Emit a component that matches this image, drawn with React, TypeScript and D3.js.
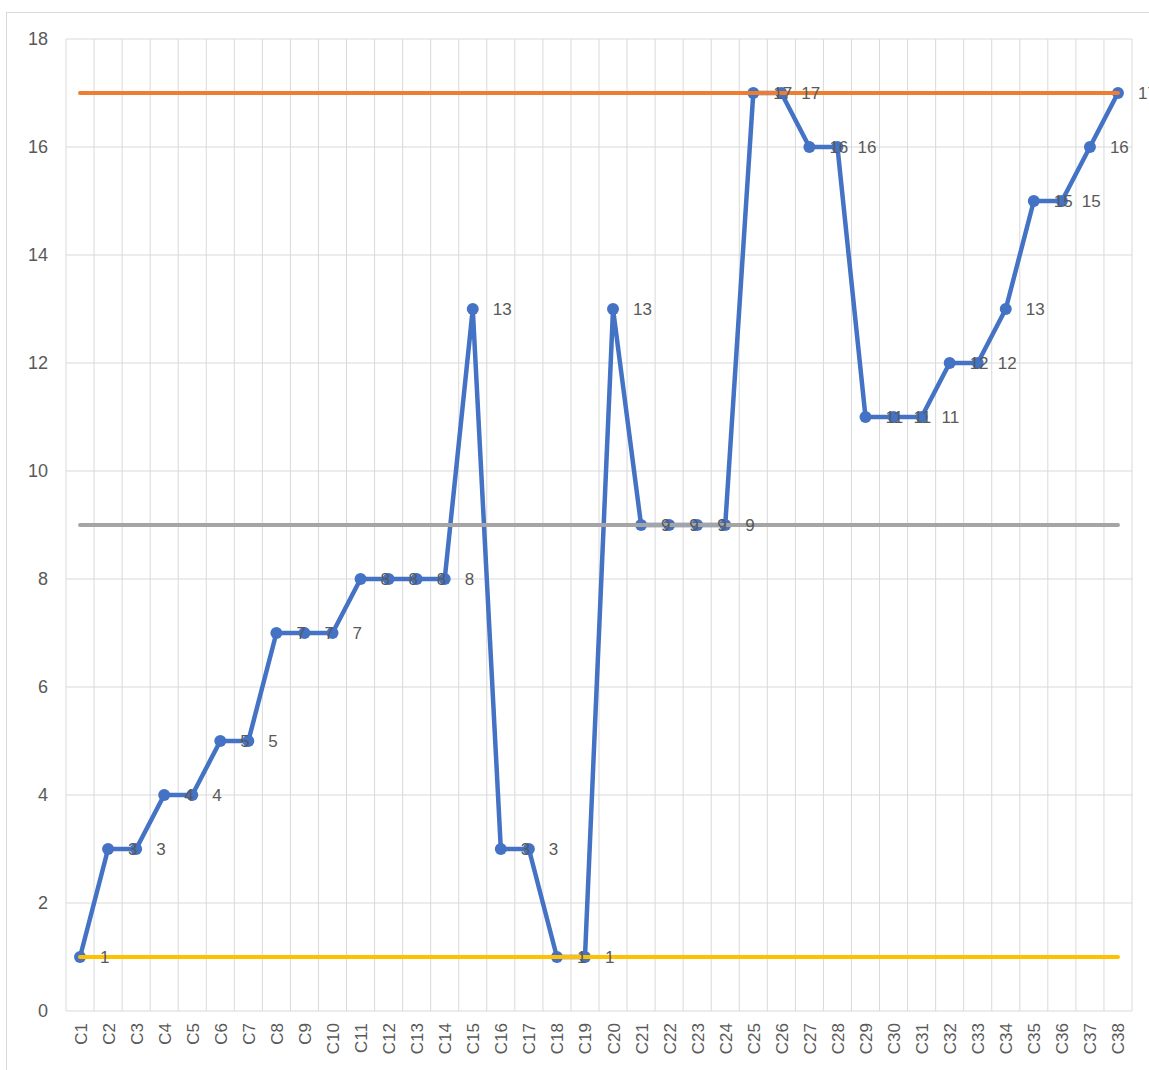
import React from "react";
import * as d3 from "d3";

const categories = Array.from({ length: 38 }, (_, i) => `C${i + 1}`);
const values = [1, 3, 3, 4, 4, 5, 5, 7, 7, 7, 8, 8, 8, 8, 13, 3, 3, 1, 1, 13, 9, 9, 9, 9, 17, 17, 16, 16, 11, 11, 11, 12, 12, 13, 15, 15, 16, 17];
const limitNames = ["upper", "center", "lower"];
const limitValues = [17, 9, 1];
const limitColors = ["#ED7D31", "#A5A5A5", "#FFC000"];
const yTicks = [0, 2, 4, 6, 8, 10, 12, 14, 16, 18];

const W = 1149;
const H = 1070;
const FONT = "'Liberation Sans', Arial, sans-serif";

export default function App() {
  const x = d3.scaleBand<string>().domain(categories).range([66, 1132]).padding(0);
  const cx = (c: string) => (x(c) as number) + x.bandwidth() / 2;
  const y = d3.scaleLinear().domain([0, 18]).range([1011, 39]);

  const line = d3
    .line<number>()
    .x((_, i) => cx(categories[i]))
    .y((d) => y(d));

  const first = categories[0];
  const last = categories[categories.length - 1];

  return (
    <svg width={W} height={H} style={{ position: "absolute", left: 0, top: 0, background: "#fff" }}>
      <rect x={0} y={0} width={W} height={H} fill="#fff" />
      <rect x={6.5} y={12.5} width={W + 10} height={H + 10} fill="#fff" stroke="#D9D9D9" />
      {yTicks.map((t) => (
        <line key={"h" + t} x1={66} x2={1132} y1={y(t)} y2={y(t)} stroke="#D9D9D9" strokeWidth={1} />
      ))}
      {categories.map((c) => (
        <line key={"v" + c} x1={x(c) as number} x2={x(c) as number} y1={y(18)} y2={y(0)} stroke="#D9D9D9" strokeWidth={1} />
      ))}
      <line x1={1132} x2={1132} y1={y(18)} y2={y(0)} stroke="#D9D9D9" strokeWidth={1} />
      {yTicks.map((t) => (
        <text key={"yl" + t} x={48} y={y(t)} textAnchor="end" dominantBaseline="central" fontSize={18} fill="#595959" fontFamily={FONT}>
          {t}
        </text>
      ))}
      {categories.map((c) => (
        <text
          key={"xl" + c}
          transform={`translate(${cx(c) + 1},1023) rotate(-90)`}
          textAnchor="end"
          dominantBaseline="central"
          fontSize={17}
          fill="#595959"
          fontFamily={FONT}
        >
          {c}
        </text>
      ))}
      <path d={line(values) as string} fill="none" stroke="#4472C4" strokeWidth={4.5} strokeLinejoin="round" />
      {values.map((v, i) => (
        <circle key={"m" + i} cx={cx(categories[i])} cy={y(v)} r={6} fill="#4472C4" />
      ))}
      {limitValues.map((v, i) => (
        <line
          key={limitNames[i]}
          x1={cx(first)}
          x2={cx(last)}
          y1={y(v)}
          y2={y(v)}
          stroke={limitColors[i]}
          strokeWidth={4}
          strokeLinecap="round"
        />
      ))}
      {values.map((v, i) => (
        <text
          key={"dl" + i}
          x={cx(categories[i]) + 20}
          y={y(v)}
          dominantBaseline="central"
          fontSize={17}
          fill="#595959"
          fontFamily={FONT}
        >
          {v}
        </text>
      ))}
    </svg>
  );
}
